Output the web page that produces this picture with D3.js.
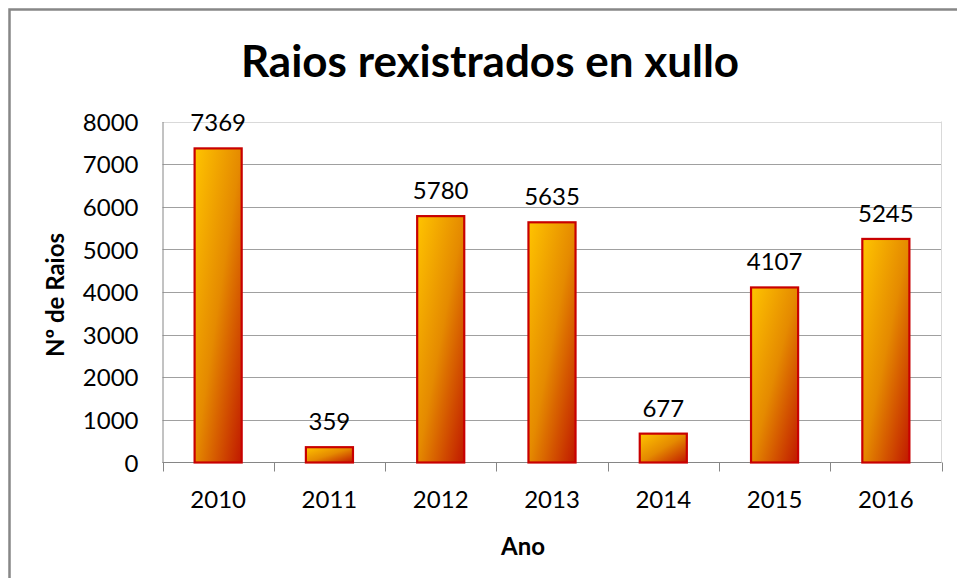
<!DOCTYPE html>
<html><head><meta charset="utf-8">
<script src="https://cdn.jsdelivr.net/npm/d3@7"></script>
<style>html,body{margin:0;padding:0;background:#fff;}svg{display:block;}</style>
</head><body>
<svg id="c" width="957" height="578"></svg>
<script>
const years = ["2010","2011","2012","2013","2014","2015","2016"];
const raios = [7369, 359, 5780, 5635, 677, 4107, 5245];
const yTicks = [0,1000,2000,3000,4000,5000,6000,7000,8000];
const titleText = "Raios rexistrados en xullo";
const yTitle = "Nº de Raios";
const xTitle = "Ano";

const svg = d3.select("#c");
const font = "Lato, 'Open Sans', sans-serif";
const L = 162.5, R = 941.5, T = 121.5, B = 462.5;

// outer border (cropped on right/bottom)
svg.append("rect").attr("x",9.5).attr("y",9.5).attr("width",1000).attr("height",1000)
  .attr("fill","#fff").attr("stroke","#878787").attr("stroke-width",2.5);

const defs = svg.append("defs");
const g = defs.append("linearGradient").attr("id","bg").attr("x1",0).attr("y1",0).attr("x2",1).attr("y2",1);
g.append("stop").attr("offset","0%").attr("stop-color","#ffc400");
g.append("stop").attr("offset","50%").attr("stop-color","#e58a00");
g.append("stop").attr("offset","100%").attr("stop-color","#c01800");

const x = d3.scaleBand().domain(years).range([L, R]).paddingInner(0.577).paddingOuter(0.2885);
const xb = d3.scaleBand().domain(years).range([L, R]);
const y = d3.scaleLinear().domain([0, 8000]).range([B, T]);

// gridlines
svg.append("g").selectAll("line").data(yTicks.filter(d=>d>0)).join("line")
  .attr("x1",L).attr("x2",R).attr("y1",d=>Math.round(y(d))+0.5).attr("y2",d=>Math.round(y(d))+0.5)
  .attr("stroke",d=>d===8000?"#d9d9d9":"#a0a0a0").attr("stroke-width",1);
// right border
svg.append("line").attr("x1",R).attr("x2",R).attr("y1",T).attr("y2",B).attr("stroke","#d9d9d9");

// y axis
const ya = svg.append("g").attr("transform",`translate(${L},0)`)
  .call(d3.axisLeft(y).tickValues(yTicks).tickSize(0).tickPadding(24).tickFormat(d3.format("d")));
ya.select(".domain").attr("stroke","#868686");
ya.selectAll("text").attr("font-family",font).attr("font-size",24).attr("fill","#000").attr("dy","0.36em");

// x axis
const xa = svg.append("g").attr("transform",`translate(0,${B})`)
  .call(d3.axisBottom(xb).tickSize(0).tickPadding(0));
xa.select(".domain").remove();
xa.append("line").attr("x1",L).attr("x2",R).attr("stroke","#868686");
xa.selectAll(".tick line").remove();
xa.selectAll("line.bt").data(years.concat(["end"])).join("line").attr("class","bt")
  .attr("x1",(d,i)=>Math.round(L + i*xb.bandwidth())+0.5).attr("x2",(d,i)=>Math.round(L + i*xb.bandwidth())+0.5)
  .attr("y1",0).attr("y2",9).attr("stroke","#868686");
xa.selectAll(".tick text").attr("font-family",font).attr("font-size",24).attr("fill","#000").attr("y",45).attr("dy",0);

// bars
svg.append("g").selectAll("rect").data(raios).join("rect")
  .attr("x",(d,i)=>x(years[i])).attr("width",x.bandwidth())
  .attr("y",d=>y(d)).attr("height",d=>B-y(d))
  .attr("fill","url(#bg)").attr("stroke","#c80000").attr("stroke-width",2.2);

// value labels
svg.append("g").selectAll("text").data(raios).join("text")
  .attr("x",(d,i)=>xb(years[i])+xb.bandwidth()/2).attr("y",d=>y(d)-17)
  .attr("text-anchor","middle").attr("font-family",font).attr("font-size",24).attr("fill","#000")
  .text(d=>d);

// title
svg.append("text").attr("x",490).attr("y",77).attr("text-anchor","middle")
  .attr("font-family",font).attr("font-weight","bold").attr("font-size",44).attr("fill","#000").text(titleText);

// axis titles
svg.append("text").attr("transform","translate(64,295) rotate(-90)").attr("text-anchor","middle")
  .attr("font-family",font).attr("font-weight","bold").attr("font-size",24).attr("fill","#000").text(yTitle);
svg.append("text").attr("x",523).attr("y",555).attr("text-anchor","middle")
  .attr("font-family",font).attr("font-weight","bold").attr("font-size",24).attr("fill","#000").text(xTitle);
</script>
</body></html>
